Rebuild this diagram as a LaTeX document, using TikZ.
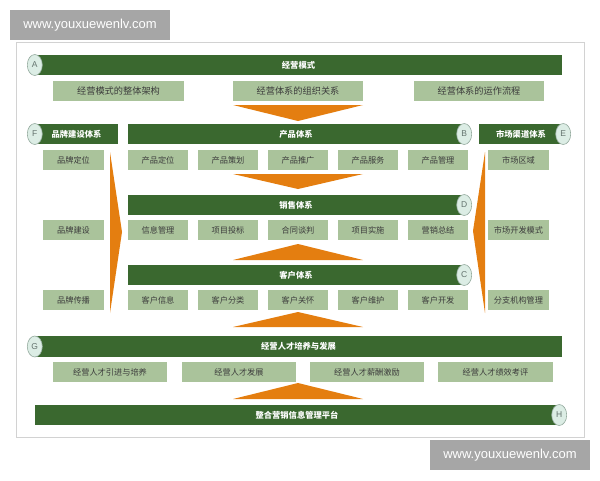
\documentclass[tikz,border=0pt]{standalone}
\usepackage{fontspec}
\usetikzlibrary{shapes.geometric}
\newfontfamily\cjk{Noto Sans CJK SC}
\newfontfamily\wmfont{Liberation Sans}
\definecolor{barG}{RGB}{58,104,47}
\definecolor{boxG}{RGB}{170,195,155}
\definecolor{boxT}{RGB}{60,60,60}
\definecolor{org}{RGB}{228,126,16}
\definecolor{capF}{RGB}{220,237,229}
\definecolor{capD}{RGB}{150,172,160}
\definecolor{capT}{RGB}{100,115,110}
\definecolor{frameC}{RGB}{210,210,210}
\definecolor{wmG}{RGB}{166,166,166}
\tikzset{
  bar/.style={fill=barG, text=white, font=\cjk\bfseries\fontsize{8.3}{10}\selectfont, minimum height=20.5pt, inner sep=0pt},
  gbox/.style={fill=boxG, text=boxT, font=\cjk\fontsize{8.2}{10}\selectfont, minimum height=20pt, inner sep=0pt},
  tbox/.style={gbox, font=\cjk\fontsize{9.2}{11}\selectfont},
  capnode/.style={ellipse, fill=capF, draw=capD, line width=0.6pt, minimum width=15pt, minimum height=21pt, inner sep=0pt, text=capT, font=\wmfont\fontsize{8.5}{9}\selectfont},
  tri/.style={fill=org},
  wmbox/.style={fill=wmG, text=white, font=\wmfont\fontsize{13}{15}\selectfont, minimum width=160pt, minimum height=30pt, inner sep=0pt}
}
\begin{document}
\begin{tikzpicture}[x=1pt,y=-1pt]
\useasboundingbox (0,0) rectangle (600,480);
% watermarks
\node[wmbox] (wm1) at (90,25) {www.youxuewenlv.com};
\node[wmbox] (wm2) at (510,455) {www.youxuewenlv.com};
% frame
\draw[frameC, line width=0.9pt] (16,42) rectangle (584,437);
% bars
\node[bar, minimum width=527pt] (barA) at (298.5,65) {经营模式};
\node[bar, minimum width=83pt] (barF) at (76.5,134) {品牌建设体系};
\node[bar, minimum width=336pt] (barB) at (296,134) {产品体系};
\node[bar, minimum width=84pt] (barE) at (521,134) {市场渠道体系};
\node[bar, minimum width=336pt] (barD) at (296,205) {销售体系};
\node[bar, minimum width=336pt] (barC) at (296,275) {客户体系};
\node[bar, minimum width=527pt] (barG) at (298.5,346.5) {经营人才培养与发展};
\node[bar, minimum width=524pt] (barH) at (297,415) {整合营销信息管理平台};
% caps
\node[capnode] (capA) at (barA.west) {A};
\node[capnode] (capF) at (barF.west) {F};
\node[capnode] (capB) at (barB.east) {B};
\node[capnode] (capE) at (barE.east) {E};
\node[capnode] (capD) at (barD.east) {D};
\node[capnode] (capC) at (barC.east) {C};
\node[capnode] (capG) at (barG.west) {G};
\node[capnode] (capH) at (barH.east) {H};
% top row
\node[tbox, minimum width=131pt] (m1) at (118.5,91) {经营模式的整体架构};
\node[tbox, minimum width=130pt] (m2) at (298,91) {经营体系的组织关系};
\node[tbox, minimum width=130pt] (m3) at (479,91) {经营体系的运作流程};
% product row
\node[gbox, minimum width=60pt] (p1) at (158,160) {产品定位};
\node[gbox, minimum width=60pt] (p2) at (228,160) {产品策划};
\node[gbox, minimum width=60pt] (p3) at (298,160) {产品推广};
\node[gbox, minimum width=60pt] (p4) at (368,160) {产品服务};
\node[gbox, minimum width=60pt] (p5) at (438,160) {产品管理};
% sales row
\node[gbox, minimum width=60pt] (s1) at (158,230) {信息管理};
\node[gbox, minimum width=60pt] (s2) at (228,230) {项目投标};
\node[gbox, minimum width=60pt] (s3) at (298,230) {合同谈判};
\node[gbox, minimum width=60pt] (s4) at (368,230) {项目实施};
\node[gbox, minimum width=60pt] (s5) at (438,230) {营销总结};
% customer row
\node[gbox, minimum width=60pt] (c1) at (158,300) {客户信息};
\node[gbox, minimum width=60pt] (c2) at (228,300) {客户分类};
\node[gbox, minimum width=60pt] (c3) at (298,300) {客户关怀};
\node[gbox, minimum width=60pt] (c4) at (368,300) {客户维护};
\node[gbox, minimum width=60pt] (c5) at (438,300) {客户开发};
% left column
\node[gbox, minimum width=61pt] (f1) at (73.5,160) {品牌定位};
\node[gbox, minimum width=61pt] (f2) at (73.5,230) {品牌建设};
\node[gbox, minimum width=61pt] (f3) at (73.5,300) {品牌传播};
% right column
\node[gbox, minimum width=61pt] (e1) at (518.5,160) {市场区域};
\node[gbox, minimum width=61pt] (e2) at (518.5,230) {市场开发模式};
\node[gbox, minimum width=61pt] (e3) at (518.5,300) {分支机构管理};
% talent row
\node[gbox, minimum width=114pt] (g1) at (110,372) {经营人才引进与培养};
\node[gbox, minimum width=114pt] (g2) at (239,372) {经营人才发展};
\node[gbox, minimum width=114pt] (g3) at (367,372) {经营人才薪酬激励};
\node[gbox, minimum width=115pt] (g4) at (495.5,372) {经营人才绩效考评};
% orange triangles
\fill[tri] (233,105) -- (363,105) -- (298,121) -- cycle;
\fill[tri] (233,174) -- (363,174) -- (298,189) -- cycle;
\fill[tri] (233,260) -- (363,260) -- (298,244) -- cycle;
\fill[tri] (233,327) -- (363,327) -- (298,312) -- cycle;
\fill[tri] (233,399) -- (363,399) -- (298,383) -- cycle;
\fill[tri] (110,152) -- (122,232) -- (110,313) -- cycle;
\fill[tri] (485,152) -- (473,231) -- (485,313) -- cycle;
\end{tikzpicture}
\end{document}
